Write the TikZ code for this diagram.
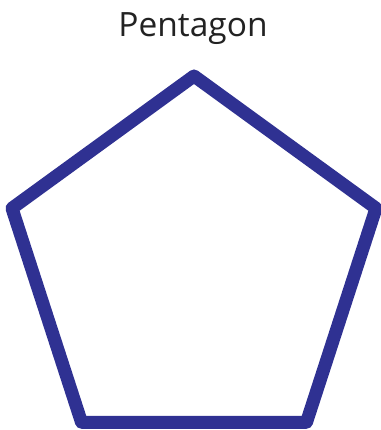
\documentclass[tikz,border=0pt]{standalone}
\usepackage{fontspec}
\setmainfont{Open Sans}
\usetikzlibrary{calc}
\definecolor{pentblue}{RGB}{47,49,146}
\definecolor{titlegray}{RGB}{34,34,34}
\tikzset{
  title/.style    = {font=\fontsize{33.5}{40}\selectfont, text=titlegray, anchor=base, inner sep=0pt},
  pentline/.style = {draw=pentblue, line width=13pt, line join=round},
}
\begin{document}
\begin{tikzpicture}[x=1pt, y=1pt]
  \useasboundingbox (0,0) rectangle (380,-430);

  % ---- title ----
  \node[title] (ttl) at (193,-37) {Pentagon};

  % ---- pentagon corners ----
  \coordinate (ctr) at (194,-267.4);
  \foreach \i in {1,...,5}
    \coordinate (v\i) at ($(ctr)+({90+72*(\i-1)}:191.4)$);

  \draw[pentline] (v1) -- (v2) -- (v3) -- (v4) -- (v5) -- cycle;
\end{tikzpicture}
\end{document}
